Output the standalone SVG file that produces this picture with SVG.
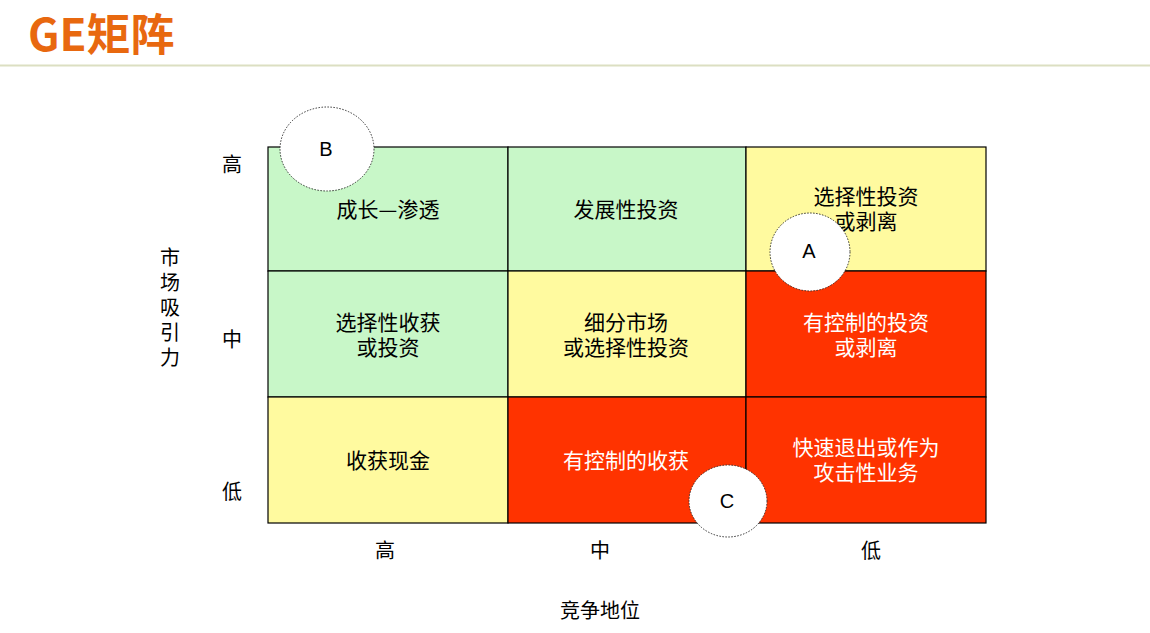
<svg xmlns="http://www.w3.org/2000/svg" width="1150" height="633" viewBox="0 0 1150 633">
<style>
.t{font-family:"Noto Sans CJK SC","Noto Sans",sans-serif;font-size:21px;text-anchor:middle;fill:#000}
.a{font-family:"Noto Sans CJK SC","Noto Sans",sans-serif;font-size:20px;text-anchor:middle;fill:#000}
.w{fill:#fff}
.cell{stroke:#000;stroke-width:1.2}
.g{fill:#C8F7C8}
.y{fill:#FFFA9F}
.r{fill:#FF3300}
.mark{fill:#fff;stroke:#333;stroke-width:1;stroke-dasharray:1.5 1.5}
.ml{font-family:"Liberation Sans","Noto Sans",sans-serif;font-size:20px;text-anchor:middle;fill:#000}
</style>
<rect width="1150" height="633" fill="#fff"/>
<text x="28" y="51" font-family="Noto Sans CJK SC, sans-serif" font-size="44" font-weight="bold" fill="#E8680F">GE矩阵</text>
<line x1="0" y1="65.5" x2="1150" y2="65.5" stroke="#DCDFC2" stroke-width="2"/>
<g id="cells">
<g id="c11"><rect class="cell g" x="268" y="147" width="240" height="124"/><text class="t" x="388" y="217">成长—渗透</text></g>
<g id="c12"><rect class="cell g" x="508" y="147" width="238" height="124"/><text class="t" x="626" y="217">发展性投资</text></g>
<g id="c13"><rect class="cell y" x="746" y="147" width="240" height="124"/><text class="t" x="866" y="204">选择性投资</text><text class="t" x="866" y="229">或剥离</text></g>
<g id="c21"><rect class="cell g" x="268" y="271" width="240" height="126"/><text class="t" x="388" y="330">选择性收获</text><text class="t" x="388" y="355">或投资</text></g>
<g id="c22"><rect class="cell y" x="508" y="271" width="238" height="126"/><text class="t" x="626" y="330">细分市场</text><text class="t" x="626" y="355">或选择性投资</text></g>
<g id="c23"><rect class="cell r" x="746" y="271" width="240" height="126"/><text class="t w" x="866" y="330">有控制的投资</text><text class="t w" x="866" y="355">或剥离</text></g>
<g id="c31"><rect class="cell y" x="268" y="397" width="240" height="126"/><text class="t" x="388" y="468">收获现金</text></g>
<g id="c32"><rect class="cell r" x="508" y="397" width="238" height="126"/><text class="t w" x="626" y="468">有控制的收获</text></g>
<g id="c33"><rect class="cell r" x="746" y="397" width="240" height="126"/><text class="t w" x="866" y="455">快速退出或作为</text><text class="t w" x="866" y="480">攻击性业务</text></g>
</g>
<g id="markB"><ellipse class="mark" cx="327" cy="149" rx="47" ry="42"/><text class="ml" x="326" y="156">B</text></g>
<g id="markA"><ellipse class="mark" cx="810" cy="252" rx="40" ry="39"/><text class="ml" x="809" y="258">A</text></g>
<g id="markC"><ellipse class="mark" cx="728" cy="501" rx="39" ry="36"/><text class="ml" x="727" y="508">C</text></g>
<g id="axes">
<text class="a" x="232" y="172">高</text>
<text class="a" x="232" y="347">中</text>
<text class="a" x="232" y="499">低</text>
<text class="a" x="170" y="265">市</text>
<text class="a" x="170" y="290">场</text>
<text class="a" x="170" y="315">吸</text>
<text class="a" x="170" y="340">引</text>
<text class="a" x="170" y="365">力</text>
<text class="a" x="385" y="558">高</text>
<text class="a" x="600" y="558">中</text>
<text class="a" x="871" y="558">低</text>
<text class="a" x="600" y="618">竞争地位</text>
</g>
</svg>
